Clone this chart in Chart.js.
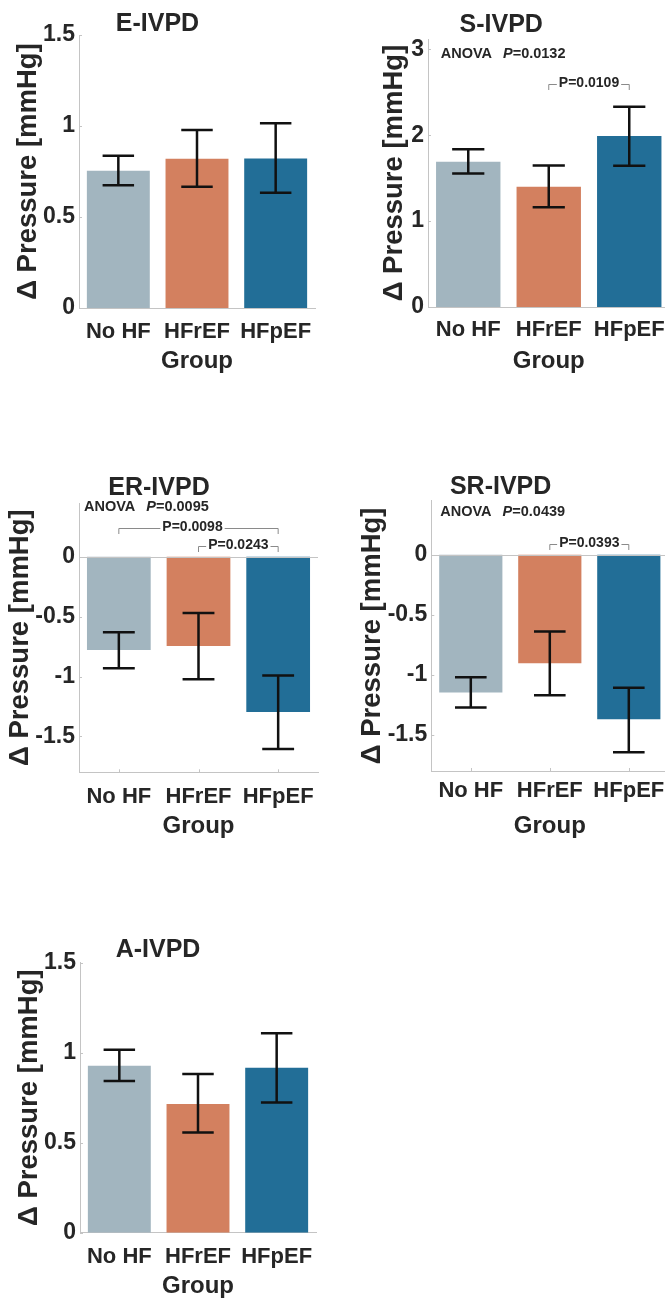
<!DOCTYPE html>
<html><head><meta charset="utf-8">
<script src="https://cdn.jsdelivr.net/npm/chart.js@4.4.1/dist/chart.umd.min.js"></script>
<style>
html,body{margin:0;padding:0;background:#fff;width:665px;height:1301px;overflow:hidden;position:relative}
.p{position:absolute}
canvas{display:block}
</style></head><body>
<div class="p" id="w1"><canvas id="c1"></canvas></div>
<div class="p" id="w2"><canvas id="c2"></canvas></div>
<div class="p" id="w3"><canvas id="c3"></canvas></div>
<div class="p" id="w4"><canvas id="c4"></canvas></div>
<div class="p" id="w5"><canvas id="c5"></canvas></div>
<script>
// ---- data ----
const categories = ['No HF', 'HFrEF', 'HFpEF'];

const eMean = [0.754, 0.820, 0.822];
const eLow  = [0.674, 0.666, 0.633];
const eHigh = [0.837, 0.978, 1.015];

const sMean = [1.69, 1.40, 1.99];
const sLow  = [1.555, 1.16, 1.643];
const sHigh = [1.837, 1.648, 2.33];

const erMean = [-0.778, -0.744, -1.297];
const erLow  = [-0.93, -1.022, -1.605];
const erHigh = [-0.63, -0.469, -0.992];

const srMean = [-1.147, -0.903, -1.369];
const srLow  = [-1.272, -1.169, -1.644];
const srHigh = [-1.019, -0.639, -1.106];

const aMean = [0.928, 0.715, 0.917];
const aLow  = [0.843, 0.556, 0.724];
const aHigh = [1.017, 0.882, 1.108];

const eTicks  = [0, 0.5, 1, 1.5];
const sTicks  = [0, 1, 2, 3];
const erTicks = [-1.5, -1, -0.5, 0];
const srTicks = [-1.5, -1, -0.5, 0];
const aTicks  = [0, 0.5, 1, 1.5];

const eTickLabels  = ['0', '0.5', '1', '1.5'];
const sTickLabels  = ['0', '1', '2', '3'];
const erTickLabels = ['-1.5', '-1', '-0.5', '0'];
const srTickLabels = ['-1.5', '-1', '-0.5', '0'];
const aTickLabels  = ['0', '0.5', '1', '1.5'];

// ---- styles ----
const FONT = "'Liberation Sans', Arial, sans-serif";
const TXT = '#262626';
const AX = '#c4c4c4';
const BR = '#8a8a8a';
const barColors = ['#a2b5bf', '#d3805f', '#226e97'];

const panels = [
  {id:'c1', wrap:'w1', title:'E-IVPD', mean:eMean, low:eLow, high:eHigh, ticks:eTicks, tickLabels:eTickLabels, min:0, max:1.5,
   box:{left:0, top:0, w:333, h:380}, area:{left:79, right:315, top:35, bottom:308},
   titleY:24, yTitleX:28, xLabelY:331.7, groupY:361.7},
  {id:'c2', wrap:'w2', title:'S-IVPD', mean:sMean, low:sLow, high:sHigh, ticks:sTicks, tickLabels:sTickLabels, min:0, max:3.12,
   box:{left:333, top:0, w:345, h:380}, area:{left:428, right:669.5, top:39, bottom:307},
   titleY:25, yTitleX:394, xLabelY:330, groupY:361.7,
   anova:{dx:12.7, y:2.95, p:'0.0132'},
   brackets:[{a:1, b:2, y:2.6, label:'P=0.0109'}]},
  {id:'c3', wrap:'w3', title:'ER-IVPD', mean:erMean, low:erLow, high:erHigh, ticks:erTicks, tickLabels:erTickLabels, min:-1.8, max:0.45,
   box:{left:0, top:440, w:333, h:405}, area:{left:79, right:318, top:503, bottom:772.3},
   titleY:488.5, yTitleX:20, xLabelY:796.7, groupY:826.7, baseline:true,
   anova:{dx:5, y:0.417, p:'0.0095'},
   brackets:[{a:0, b:2, y:0.239, label:'P=0.0098', dx:-6}, {a:1, b:2, y:0.088, label:'P=0.0243'}]},
  {id:'c4', wrap:'w4', title:'SR-IVPD', mean:srMean, low:srLow, high:srHigh, ticks:srTicks, tickLabels:srTickLabels, min:-1.8, max:0.45,
   box:{left:333, top:440, w:345, h:405}, area:{left:431.3, right:668.3, top:500.7, bottom:771},
   titleY:487, yTitleX:372, xLabelY:790.7, groupY:826.7, baseline:true,
   anova:{dx:9, y:0.352, p:'0.0439'},
   brackets:[{a:1, b:2, y:0.089, label:'P=0.0393'}]},
  {id:'c5', wrap:'w5', title:'A-IVPD', mean:aMean, low:aLow, high:aHigh, ticks:aTicks, tickLabels:aTickLabels, min:0, max:1.5,
   box:{left:0, top:880, w:333, h:425}, area:{left:80, right:316, top:962.7, bottom:1232.7},
   titleY:950.3, yTitleX:29, xLabelY:1256.7, groupY:1286.7}
];

function makeDecor(p) {
  return {
    id: 'decor_' + p.id,
    beforeDatasetsDraw(chart) {
      const ctx = chart.ctx, xs = chart.scales.x, ys = chart.scales.y, ca = chart.chartArea;
      ctx.save();
      ctx.strokeStyle = AX; ctx.lineWidth = 1;
      ys.ticks.forEach(t => {
        const y = Math.round(ys.getPixelForValue(t.value)) + 0.5;
        ctx.beginPath(); ctx.moveTo(ca.left, y); ctx.lineTo(ca.left + 3, y); ctx.stroke();
      });
      categories.forEach((c, i) => {
        const x = Math.round(xs.getPixelForValue(i)) + 0.5;
        ctx.beginPath(); ctx.moveTo(x, ca.bottom); ctx.lineTo(x, ca.bottom - 3); ctx.stroke();
      });
      ctx.restore();
    },
    afterDatasetsDraw(chart) {
      const ctx = chart.ctx, xs = chart.scales.x, ys = chart.scales.y, ca = chart.chartArea;
      const meta = chart.getDatasetMeta(0);
      ctx.save();
      if (p.baseline) {
        const y0 = Math.round(ys.getPixelForValue(0)) + 0.5;
        ctx.strokeStyle = AX; ctx.lineWidth = 1;
        ctx.beginPath(); ctx.moveTo(ca.left, y0); ctx.lineTo(ca.right, y0); ctx.stroke();
      }
      // error bars
      ctx.strokeStyle = '#111'; ctx.lineWidth = 2.5; ctx.lineCap = 'butt';
      meta.data.forEach((bar, i) => {
        const x = bar.x, hw = bar.width * 0.25;
        const yl = ys.getPixelForValue(p.low[i]), yh = ys.getPixelForValue(p.high[i]);
        ctx.beginPath();
        ctx.moveTo(x, yl); ctx.lineTo(x, yh);
        ctx.moveTo(x - hw, yl); ctx.lineTo(x + hw, yl);
        ctx.moveTo(x - hw, yh); ctx.lineTo(x + hw, yh);
        ctx.stroke();
      });
      // anova text
      if (p.anova) {
        const fs = 14.5;
        const x0 = ca.left + p.anova.dx, y = ys.getPixelForValue(p.anova.y);
        ctx.fillStyle = TXT; ctx.textBaseline = 'middle'; ctx.textAlign = 'left';
        ctx.font = `bold ${fs}px ${FONT}`;
        ctx.fillText('ANOVA', x0, y);
        let x1 = x0 + ctx.measureText('ANOVA').width + 11;
        ctx.font = `italic bold ${fs}px ${FONT}`;
        ctx.fillText('P', x1, y);
        x1 += ctx.measureText('P').width;
        ctx.font = `bold ${fs}px ${FONT}`;
        ctx.fillText('=' + p.anova.p, x1, y);
      }
      // brackets
      (p.brackets || []).forEach(b => {
        const fs = 14;
        ctx.font = `bold ${fs}px ${FONT}`;
        const xa = xs.getPixelForValue(b.a), xb = xs.getPixelForValue(b.b);
        const y = Math.round(ys.getPixelForValue(b.y)) + 0.5;
        const tw = ctx.measureText(b.label).width;
        const xm = (xa + xb) / 2 + (b.dx || 0);
        const t0 = xm - tw / 2 - 2, t1 = xm + tw / 2 + 2;
        ctx.strokeStyle = BR; ctx.lineWidth = 1;
        ctx.beginPath();
        ctx.moveTo(xa, y + 5.5); ctx.lineTo(xa, y); ctx.lineTo(t0, y);
        ctx.moveTo(t1, y); ctx.lineTo(xb, y); ctx.lineTo(xb, y + 5.5);
        ctx.stroke();
        ctx.fillStyle = TXT; ctx.textAlign = 'center'; ctx.textBaseline = 'middle';
        ctx.fillText(b.label, xm, y - 1);
      });
      ctx.restore();
    }
  };
}

function makeChart(p) {
  const canvas = document.getElementById(p.id);
  const wrap = document.getElementById(p.wrap);
  wrap.style.left = p.box.left + 'px'; wrap.style.top = p.box.top + 'px';
  wrap.style.width = p.box.w + 'px'; wrap.style.height = p.box.h + 'px';
  canvas.width = p.box.w; canvas.height = p.box.h;
  canvas.style.width = p.box.w + 'px'; canvas.style.height = p.box.h + 'px';

  const TF = 25, TLH = TF * 1.0;
  const titlePadTop = p.titleY - p.box.top - TLH / 2;
  const titlePadBottom = (p.area.top - p.box.top) - titlePadTop - TLH;
  const YF = 27.5, YLH = YF * 1.2;
  const yTitlePad = p.yTitleX - p.box.left - YLH / 2;
  const GF = 24, GLH = GF * 1.2;
  const xScaleH = (p.box.top + p.box.h) - p.area.bottom;
  const groupPad = (p.box.top + p.box.h) - p.groupY - GLH / 2;
  const XTF = 22;
  const tickPadX = p.xLabelY - p.area.bottom - XTF * 1.2 / 2;
  const yScaleW = p.area.left - p.box.left;

  new Chart(canvas, {
    type: 'bar',
    data: {
      labels: categories,
      datasets: [{data: p.mean, backgroundColor: barColors, borderWidth: 0,
                  categoryPercentage: 0.8, barPercentage: 1}]
    },
    options: {
      responsive: false, animation: false, events: [],
      layout: {padding: {left: 0, top: 0, bottom: 0, right: (p.box.left + p.box.w) - p.area.right}},
      plugins: {
        legend: {display: false}, tooltip: {enabled: false},
        title: {display: true, text: p.title, color: TXT,
                font: {family: FONT, size: TF, weight: 'bold', lineHeight: 1.0},
                padding: {top: titlePadTop, bottom: titlePadBottom}}
      },
      scales: {
        x: {
          type: 'category', offset: true,
          grid: {display: false, drawTicks: false},
          border: {display: true, color: AX, width: 1},
          ticks: {color: TXT, font: {family: FONT, size: XTF, weight: 'bold'}, padding: tickPadX,
                  maxRotation: 0, autoSkip: false},
          title: {display: true, text: 'Group', color: TXT,
                  font: {family: FONT, size: GF, weight: 'bold'}, padding: {top: 0, bottom: groupPad}},
          afterFit: s => { s.height = xScaleH; }
        },
        y: {
          min: p.min, max: p.max,
          grid: {display: false, drawTicks: false},
          border: {display: true, color: AX, width: 1},
          afterBuildTicks: s => { s.ticks = p.ticks.map(v => ({value: v})); },
          ticks: {color: TXT, font: {family: FONT, size: 23, weight: 'bold'}, padding: 4,
                  callback: (v, i) => p.tickLabels[i]},
          title: {display: true, text: 'Δ Pressure [mmHg]', color: TXT,
                  font: {family: FONT, size: YF, weight: 'bold'}, padding: {top: yTitlePad, bottom: 0}},
          afterFit: s => { s.width = yScaleW; }
        }
      }
    },
    plugins: [makeDecor(p)]
  });
}

panels.forEach(makeChart);
</script>
</body></html>
